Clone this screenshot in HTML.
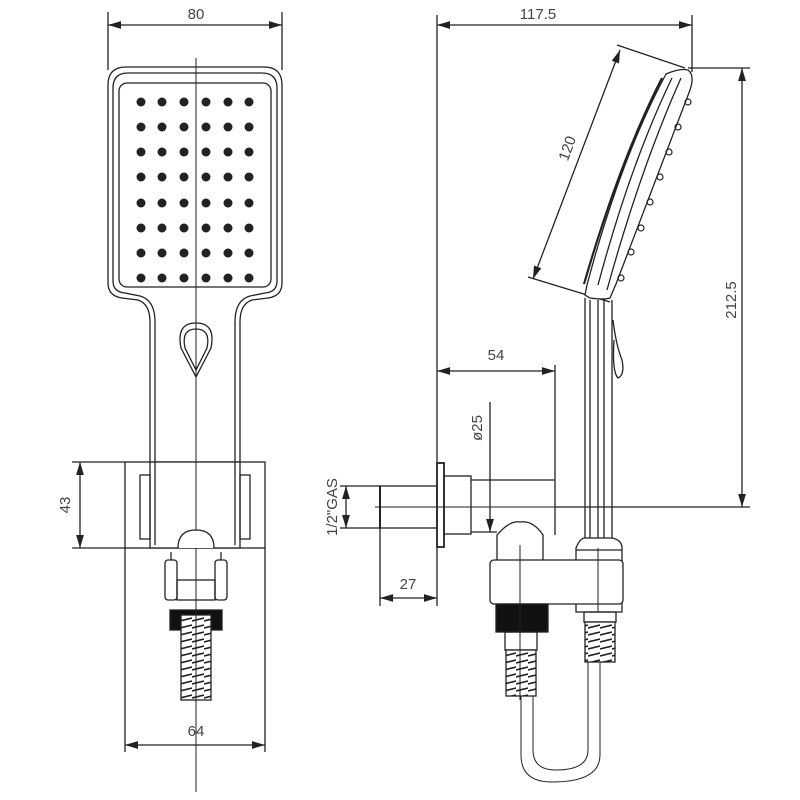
<!DOCTYPE html>
<html><head><meta charset="utf-8"><style>html,body{margin:0;padding:0;background:#fff}svg{display:block}</style></head>
<body>
<svg width="800" height="800" viewBox="0 0 800 800" xmlns="http://www.w3.org/2000/svg" font-family="Liberation Sans, sans-serif" fill="none" stroke="#222" stroke-width="1.3">
<defs>
<marker id="a" viewBox="0 0 10 6" refX="10" refY="3" markerWidth="10" markerHeight="6" orient="auto-start-reverse"><path d="M0,0 L10,3 L0,6 z" fill="#222" stroke="none"/></marker>
<pattern id="hose" width="12" height="7" patternUnits="userSpaceOnUse"><rect width="12" height="7" fill="#fff" stroke="none"/><path d="M0,5 L12,2" stroke="#222" stroke-width="1.6"/></pattern>
</defs>

<!-- LEFT VIEW -->
<line x1="108" y1="12" x2="108" y2="70"/><line x1="282" y1="12" x2="282" y2="70"/>
<line x1="108" y1="25" x2="282" y2="25" marker-start="url(#a)" marker-end="url(#a)"/>
<text x="196" y="19" font-size="15" fill="#444" stroke="none" text-anchor="middle">80</text>
<path d="M108,85 Q108,67 126,67 L264,67 Q282,67 282,85 L282,283 Q282,296 268,298 L252,300 Q240,304 240,322 L240,545 L150,545 L150,322 Q150,304 138,300 L122,298 Q108,296 108,283 Z"/>
<path d="M235,545 L235,322 Q235,300 250,296 L265,293 Q277,292 277,281 L277,88 Q277,73 262,73 L128,73 Q113,73 113,88 L113,281 Q113,292 125,293 L140,296 Q155,300 155,322 L155,545"/>
<rect x="119" y="83" width="152" height="204" rx="8"/>
<line x1="196" y1="58" x2="196" y2="792" stroke-width="1"/>
<g fill="#222" stroke="none">
<circle cx="141" cy="102" r="4.5"/><circle cx="162" cy="102" r="4.5"/><circle cx="184" cy="102" r="4.5"/><circle cx="206" cy="102" r="4.5"/><circle cx="228" cy="102" r="4.5"/><circle cx="249" cy="102" r="4.5"/>
<circle cx="141" cy="127" r="4.5"/><circle cx="162" cy="127" r="4.5"/><circle cx="184" cy="127" r="4.5"/><circle cx="206" cy="127" r="4.5"/><circle cx="228" cy="127" r="4.5"/><circle cx="249" cy="127" r="4.5"/>
<circle cx="141" cy="152" r="4.5"/><circle cx="162" cy="152" r="4.5"/><circle cx="184" cy="152" r="4.5"/><circle cx="206" cy="152" r="4.5"/><circle cx="228" cy="152" r="4.5"/><circle cx="249" cy="152" r="4.5"/>
<circle cx="141" cy="177" r="4.5"/><circle cx="162" cy="177" r="4.5"/><circle cx="184" cy="177" r="4.5"/><circle cx="206" cy="177" r="4.5"/><circle cx="228" cy="177" r="4.5"/><circle cx="249" cy="177" r="4.5"/>
<circle cx="141" cy="203" r="4.5"/><circle cx="162" cy="203" r="4.5"/><circle cx="184" cy="203" r="4.5"/><circle cx="206" cy="203" r="4.5"/><circle cx="228" cy="203" r="4.5"/><circle cx="249" cy="203" r="4.5"/>
<circle cx="141" cy="228" r="4.5"/><circle cx="162" cy="228" r="4.5"/><circle cx="184" cy="228" r="4.5"/><circle cx="206" cy="228" r="4.5"/><circle cx="228" cy="228" r="4.5"/><circle cx="249" cy="228" r="4.5"/>
<circle cx="141" cy="253" r="4.5"/><circle cx="162" cy="253" r="4.5"/><circle cx="184" cy="253" r="4.5"/><circle cx="206" cy="253" r="4.5"/><circle cx="228" cy="253" r="4.5"/><circle cx="249" cy="253" r="4.5"/>
<circle cx="141" cy="278" r="4.5"/><circle cx="162" cy="278" r="4.5"/><circle cx="184" cy="278" r="4.5"/><circle cx="206" cy="278" r="4.5"/><circle cx="228" cy="278" r="4.5"/><circle cx="249" cy="278" r="4.5"/>
</g>
<path d="M196,377 L181,348 Q176,323 196,323 Q216,323 211,348 Z"/>
<path d="M196,370 L185,348 Q181,329 196,329 Q211,329 207,348 Z"/>
<rect x="125" y="462" width="140" height="86" fill="#fff"/>
<rect x="150" y="462" width="90" height="86" fill="#fff"/>
<line x1="155" y1="462" x2="155" y2="545"/><line x1="235" y1="462" x2="235" y2="545"/>
<rect x="140" y="475" width="10" height="64"/><rect x="240" y="475" width="10" height="64"/>
<line x1="196" y1="462" x2="196" y2="792" stroke-width="1"/>
<line x1="72" y1="462" x2="125" y2="462"/><line x1="72" y1="548" x2="125" y2="548"/>
<line x1="80" y1="462" x2="80" y2="548" marker-start="url(#a)" marker-end="url(#a)"/>
<text transform="translate(70,505) rotate(-90)" font-size="15" fill="#444" stroke="none" text-anchor="middle">43</text>
<path d="M178,548 Q178,530 196,530 Q214,530 214,548" fill="#fff"/>
<rect x="165" y="560" width="12" height="40" rx="3"/><rect x="215" y="560" width="12" height="40" rx="3"/>
<line x1="171" y1="552" x2="171" y2="560"/><line x1="221" y1="552" x2="221" y2="560"/>
<rect x="177" y="580" width="38" height="20"/>
<rect x="170" y="610" width="52" height="20" fill="#111"/>
<rect x="181" y="615" width="30" height="85" fill="url(#hose)"/>
<line x1="196" y1="560" x2="196" y2="792" stroke-width="1"/>
<line x1="125" y1="548" x2="125" y2="752"/><line x1="265" y1="548" x2="265" y2="752"/>
<line x1="125" y1="745" x2="265" y2="745" marker-start="url(#a)" marker-end="url(#a)"/>
<text x="196" y="736" font-size="15" fill="#444" stroke="none" text-anchor="middle">64</text>

<!-- RIGHT VIEW -->
<line x1="437" y1="15" x2="437" y2="462"/><line x1="692" y1="15" x2="692" y2="72"/>
<line x1="437" y1="25" x2="692" y2="25" marker-start="url(#a)" marker-end="url(#a)"/>
<text x="538" y="19" font-size="15" fill="#444" stroke="none" text-anchor="middle">117.5</text>
<line x1="688" y1="68" x2="750" y2="68"/><line x1="555" y1="507" x2="750" y2="507"/>
<line x1="742" y1="68" x2="742" y2="507" marker-start="url(#a)" marker-end="url(#a)"/>
<text transform="translate(736,300) rotate(-90)" font-size="15" fill="#444" stroke="none" text-anchor="middle">212.5</text>
<line x1="617" y1="45" x2="685" y2="68"/><line x1="528" y1="277" x2="610" y2="302"/>
<line x1="620" y1="50" x2="533" y2="279" marker-start="url(#a)" marker-end="url(#a)"/>
<text transform="translate(572,150) rotate(-70)" font-size="15" fill="#444" stroke="none" text-anchor="middle">120</text>
<path d="M666,74 Q680,68 688,70 Q695,75 690,90 L616,284 L610,298 Q604,300 590,298 L585,295 L587,285 Q620,160 666,74 Z" fill="#fff"/>
<path d="M662,78 Q620,160 584,284" stroke-width="2.2"/>
<path d="M672,78 Q630,165 598,285"/>
<path d="M681,78 Q640,170 607,290"/>
<g stroke-width="1.2">
<circle cx="688" cy="102" r="3"/><circle cx="678" cy="127" r="3"/><circle cx="669" cy="152" r="3"/><circle cx="660" cy="177" r="3"/><circle cx="650" cy="202" r="3"/><circle cx="641" cy="228" r="3"/><circle cx="631" cy="252" r="3"/><circle cx="621" cy="278" r="3"/>
</g>
<line x1="585" y1="298" x2="585" y2="548"/><line x1="590" y1="300" x2="590" y2="548"/><line x1="598" y1="300" x2="598" y2="548"/><line x1="604" y1="300" x2="604" y2="548"/><line x1="612" y1="300" x2="612" y2="548"/>
<path d="M613,320 Q616,345 622,360 Q625,375 618,378 Q612,372 614,340"/>
<line x1="555" y1="365" x2="555" y2="535"/>
<line x1="437" y1="371" x2="555" y2="371" marker-start="url(#a)" marker-end="url(#a)"/>
<text x="496" y="360" font-size="15" fill="#444" stroke="none" text-anchor="middle">54</text>
<line x1="490" y1="402" x2="490" y2="532" marker-end="url(#a)"/>
<text transform="translate(482,428) rotate(-90)" font-size="15" fill="#444" stroke="none" text-anchor="middle">ø25</text>
<rect x="380" y="486" width="57" height="42"/>
<line x1="380" y1="486" x2="380" y2="528" stroke-width="2"/>
<rect x="437" y="463" width="7" height="84" stroke-width="1.8"/>
<rect x="444" y="476" width="27" height="58"/>
<line x1="471" y1="480" x2="555" y2="480"/><line x1="471" y1="532" x2="497" y2="532"/>
<line x1="375" y1="507" x2="650" y2="507" stroke-width="1"/>
<line x1="340" y1="486" x2="380" y2="486"/><line x1="340" y1="528" x2="380" y2="528"/>
<line x1="346" y1="486" x2="346" y2="528" marker-start="url(#a)" marker-end="url(#a)"/>
<text transform="translate(337,507) rotate(-90)" font-size="15" fill="#444" stroke="none" text-anchor="middle">1/2"GAS</text>
<line x1="380" y1="528" x2="380" y2="606"/><line x1="437" y1="547" x2="437" y2="606"/>
<line x1="380" y1="598" x2="437" y2="598" marker-start="url(#a)" marker-end="url(#a)"/>
<text x="408" y="589" font-size="15" fill="#444" stroke="none" text-anchor="middle">27</text>
<path d="M497,560 L497,535 Q510,520 520,522 Q533,520 543,535 L543,560" fill="#fff"/>
<path d="M576,560 L576,548 Q580,538 585,538 L612,538 Q622,540 622,548 L622,612 L576,612 Z" fill="#fff"/>
<rect x="490" y="560" width="133" height="44" rx="4" fill="#fff"/>
<line x1="576" y1="550" x2="622" y2="550"/>
<rect x="496" y="604" width="52" height="28" fill="#111"/>
<rect x="505" y="632" width="32" height="18"/>
<rect x="506" y="650" width="30" height="46" fill="url(#hose)"/>
<rect x="584" y="612" width="32" height="10"/>
<rect x="585" y="622" width="30" height="40" fill="url(#hose)"/>
<line x1="520" y1="545" x2="520" y2="700" stroke-width="1"/>
<line x1="598" y1="548" x2="598" y2="612" stroke-width="1"/>
<path d="M521,696 L521,755 Q521,782 552,782 Q600,782 600,755 L600,662" stroke-width="1"/>
<path d="M533,696 L533,750 Q533,770 556,770 Q588,770 588,750 L588,662" stroke-width="1"/>
</svg>
</body></html>
